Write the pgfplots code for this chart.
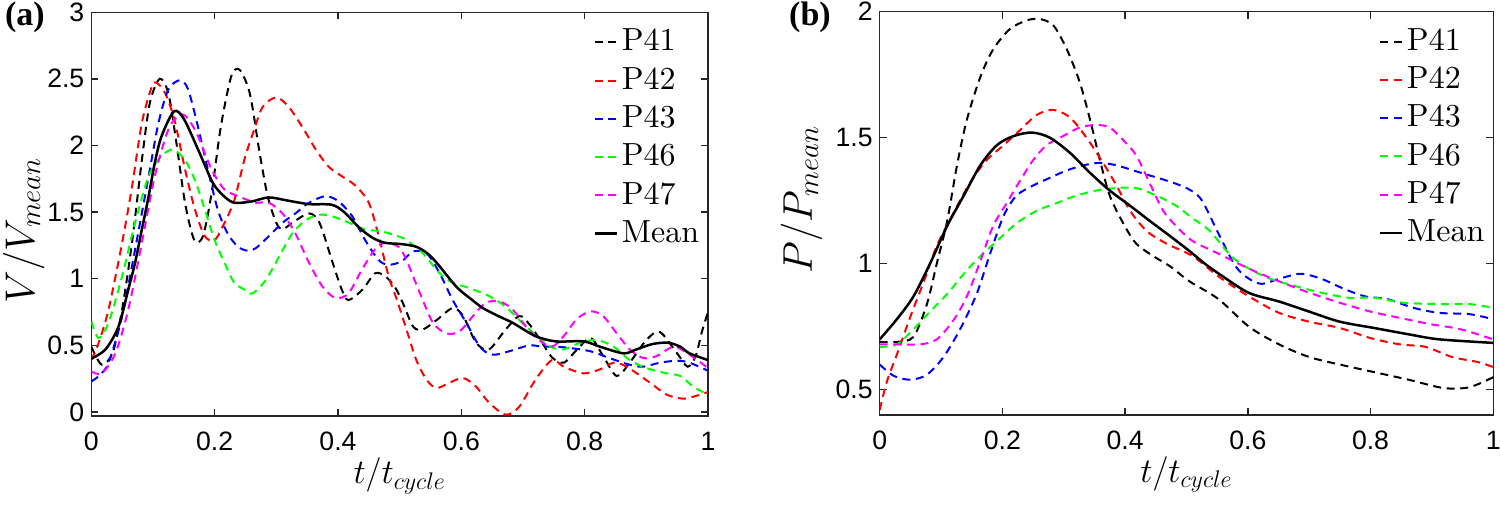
\documentclass[border=0pt]{standalone}
\usepackage{fontspec}
\usepackage{pgfplots}
\pgfplotsset{compat=1.18}
\newfontfamily\arialfont{Liberation Sans}
\newfontfamily\timesfont{Liberation Serif}
\newfontfamily\lmroman{lmroman10-regular.otf}
\newcommand\legtxt[1]{{\lmroman\fontsize{16}{19}\selectfont #1}}

\pgfplotsset{
  panel/.style={
    scale only axis, anchor=south west,
    xmin=0, xmax=1, xtick={0,0.2,0.4,0.6,0.8,1},
    tick align=inside, tick pos=both, xticklabel pos=lower, yticklabel pos=left,
    major tick length=3.5pt,
    axis line style={line width=0.7pt, black!85},
    every tick/.style={line width=0.7pt, black!85},
    ticklabel style={font=\arialfont\fontsize{13.3}{16}\selectfont, text=black},
    /pgf/number format/assume math mode=true,
    xticklabel style={yshift=-4.5pt},
    xlabel={$t/t_{cycle}$},
    xlabel style={font=\fontsize{18}{22}\selectfont, at={(axis description cs:0.5,-0.168)}, anchor=base, inner sep=0pt},
    ylabel style={font=\fontsize{20}{24}\selectfont, rotate=0, anchor=base, inner sep=0pt},
    legend style={draw=none, fill=none, at={(1,1)}, anchor=north east,
      xshift=-2.25pt, yshift=-6.1pt, inner xsep=0pt, inner ysep=0pt,
      row sep=1.75pt, font=\lmroman\fontsize{16}{19}\selectfont,
      nodes={inner sep=2pt, text height=11pt, text depth=2.4pt},
      cells={anchor=west}},
    legend cell align=left,
    legend image code/.code={\draw[##1] (0pt,0pt) -- (10.85pt,0pt);},
    every axis plot/.append style={smooth, tension=0.5},
  },
  dsh/.style={dash pattern=on 4pt off 2.8pt, line width=1pt},
  mn/.style={solid, line width=1.25pt},
}
\definecolor{mgreen}{rgb}{0,1,0}
\definecolor{mmag}{rgb}{1,0,1}

\begin{document}
\begin{tikzpicture}
\path[use as bounding box] (0pt,0pt) rectangle (750pt,-252pt);

% ---------------- (a) ----------------
\begin{axis}[panel,
  at={(45.65pt,-208pt)}, width=308.35pt, height=201.9pt,
  ymin=-0.03, ymax=3, ytick={0,0.5,1,1.5,2,2.5,3},
  ylabel={$V/V_{mean}$},
  ylabel style={at={(axis description cs:-0.0929,0.46)}},
]
\addplot[black, dsh] coordinates {
(0,0.49) (0.017,0.355) (0.035,0.45) (0.05,0.77) (0.066,1.27) (0.082,1.89) (0.095,2.32) (0.111,2.5) (0.125,2.39) (0.138,2.02) (0.152,1.57) (0.167,1.29) (0.181,1.32) (0.195,1.64) (0.21,2.14) (0.227,2.52) (0.24,2.57) (0.254,2.44) (0.262,2.27) (0.272,1.97) (0.286,1.62) (0.3,1.42) (0.31,1.37) (0.326,1.42) (0.353,1.49) (0.37,1.42) (0.39,1.14) (0.406,0.92) (0.417,0.84) (0.44,0.92) (0.46,1.04) (0.476,1.02) (0.492,0.94) (0.505,0.82) (0.522,0.64) (0.538,0.62) (0.56,0.69) (0.586,0.78) (0.603,0.72) (0.624,0.52) (0.645,0.47) (0.672,0.62) (0.694,0.72) (0.71,0.66) (0.731,0.52) (0.747,0.41) (0.766,0.37) (0.788,0.47) (0.81,0.555) (0.83,0.42) (0.852,0.27) (0.873,0.37) (0.9,0.54) (0.922,0.60) (0.95,0.44) (0.967,0.34) (0.98,0.42) (0.99,0.6) (1,0.75)
};
\addplot[red, dsh] coordinates {
(0,0.39) (0.012,0.52) (0.028,0.77) (0.05,1.27) (0.066,1.69) (0.082,2.17) (0.098,2.44) (0.106,2.47) (0.12,2.39) (0.135,2.19) (0.152,1.82) (0.168,1.52) (0.184,1.32) (0.2,1.29) (0.216,1.42) (0.232,1.59) (0.248,1.89) (0.262,2.09) (0.278,2.29) (0.3,2.36) (0.32,2.29) (0.342,2.14) (0.364,1.97) (0.385,1.84) (0.406,1.77) (0.428,1.70) (0.45,1.57) (0.466,1.32) (0.482,1.02) (0.495,0.85) (0.511,0.62) (0.527,0.39) (0.544,0.24) (0.56,0.18) (0.581,0.22) (0.603,0.255) (0.624,0.19) (0.645,0.07) (0.672,-0.02) (0.694,0.04) (0.72,0.24) (0.747,0.39) (0.766,0.34) (0.798,0.29) (0.825,0.32) (0.847,0.37) (0.868,0.34) (0.906,0.22) (0.933,0.13) (0.96,0.10) (0.98,0.12) (1,0.15)
};
\addplot[blue, dsh] coordinates {
(0,0.23) (0.012,0.27) (0.028,0.37) (0.05,0.72) (0.071,1.22) (0.093,1.77) (0.109,2.17) (0.125,2.42) (0.144,2.49) (0.157,2.42) (0.173,2.14) (0.189,1.82) (0.205,1.52) (0.221,1.34) (0.238,1.24) (0.254,1.21) (0.267,1.23) (0.288,1.32) (0.31,1.42) (0.331,1.49) (0.353,1.57) (0.38,1.62) (0.401,1.58) (0.423,1.47) (0.444,1.29) (0.466,1.14) (0.482,1.105) (0.503,1.13) (0.522,1.205) (0.544,1.19) (0.565,1.04) (0.586,0.84) (0.608,0.67) (0.63,0.49) (0.65,0.43) (0.677,0.455) (0.71,0.50) (0.731,0.49) (0.753,0.49) (0.777,0.48) (0.81,0.455) (0.84,0.405) (0.873,0.355) (0.895,0.34) (0.922,0.37) (0.95,0.385) (0.97,0.37) (1,0.31)
};
\addplot[mgreen, dsh] coordinates {
(0,0.68) (0.012,0.555) (0.028,0.67) (0.05,1.02) (0.071,1.42) (0.093,1.77) (0.114,1.92) (0.133,1.97) (0.152,1.89) (0.168,1.74) (0.184,1.52) (0.2,1.29) (0.216,1.12) (0.232,0.97) (0.254,0.905) (0.262,0.89) (0.283,0.99) (0.305,1.17) (0.326,1.34) (0.348,1.44) (0.37,1.48) (0.39,1.47) (0.418,1.42) (0.444,1.37) (0.471,1.355) (0.503,1.31) (0.517,1.27) (0.538,1.19) (0.565,1.04) (0.586,0.97) (0.613,0.93) (0.645,0.87) (0.672,0.79) (0.694,0.69) (0.72,0.58) (0.745,0.49) (0.766,0.47) (0.793,0.52) (0.82,0.54) (0.847,0.49) (0.873,0.39) (0.9,0.33) (0.933,0.29) (0.955,0.27) (0.976,0.19) (1,0.13)
};
\addplot[mmag, dsh] coordinates {
(0,0.305) (0.017,0.29) (0.039,0.44) (0.06,0.77) (0.082,1.27) (0.103,1.77) (0.125,2.12) (0.144,2.23) (0.157,2.2) (0.173,2.07) (0.195,1.82) (0.216,1.67) (0.238,1.62) (0.254,1.59) (0.267,1.57) (0.288,1.57) (0.31,1.49) (0.331,1.34) (0.353,1.12) (0.375,0.94) (0.396,0.855) (0.417,0.89) (0.439,1.07) (0.46,1.22) (0.476,1.27) (0.498,1.24) (0.511,1.14) (0.533,0.89) (0.554,0.67) (0.576,0.59) (0.597,0.605) (0.619,0.72) (0.64,0.82) (0.662,0.83) (0.683,0.77) (0.705,0.64) (0.726,0.54) (0.747,0.49) (0.766,0.57) (0.788,0.70) (0.81,0.755) (0.83,0.72) (0.852,0.59) (0.873,0.47) (0.895,0.405) (0.917,0.42) (0.944,0.49) (0.967,0.44) (1,0.33)
};
\addplot[black, mn] coordinates {
(0,0.40) (0.023,0.47) (0.044,0.64) (0.06,0.92) (0.071,1.12) (0.082,1.37) (0.093,1.62) (0.103,1.87) (0.114,2.07) (0.134,2.255) (0.15,2.2) (0.175,1.95) (0.197,1.72) (0.215,1.62) (0.232,1.57) (0.26,1.58) (0.288,1.61) (0.32,1.585) (0.353,1.56) (0.39,1.555) (0.41,1.5) (0.433,1.39) (0.455,1.31) (0.476,1.27) (0.503,1.26) (0.527,1.24) (0.545,1.19) (0.56,1.12) (0.592,0.94) (0.615,0.85) (0.635,0.78) (0.66,0.72) (0.683,0.67) (0.72,0.57) (0.753,0.53) (0.798,0.53) (0.825,0.49) (0.863,0.44) (0.884,0.47) (0.91,0.51) (0.935,0.52) (0.955,0.49) (0.97,0.44) (1,0.39)
};
\legend{\legtxt{P41},\legtxt{P42},\legtxt{P43},\legtxt{P46},\legtxt{P47},\legtxt{Mean}}
\end{axis}

% ---------------- (b) ----------------
\begin{axis}[panel,
  at={(439.85pt,-207.5pt)}, width=306.75pt, height=201.75pt,
  ymin=0.4, ymax=2, ytick={0.5,1,1.5,2},
  ylabel={$P/P_{mean}$},
  ylabel style={at={(axis description cs:-0.1104,0.534)}},
]
\addplot[black, dsh] coordinates {
(0,0.69) (0.028,0.69) (0.055,0.71) (0.077,0.84) (0.093,1.0) (0.11,1.17) (0.126,1.39) (0.142,1.57) (0.164,1.74) (0.185,1.85) (0.212,1.93) (0.24,1.965) (0.261,1.97) (0.283,1.945) (0.305,1.85) (0.326,1.72) (0.343,1.57) (0.359,1.41) (0.375,1.27) (0.397,1.16) (0.418,1.08) (0.446,1.03) (0.473,0.99) (0.505,0.93) (0.552,0.86) (0.602,0.75) (0.651,0.68) (0.70,0.63) (0.75,0.60) (0.806,0.57) (0.862,0.54) (0.919,0.507) (0.961,0.51) (1,0.55)
};
\addplot[red, dsh] coordinates {
(0,0.42) (0.012,0.535) (0.028,0.64) (0.05,0.79) (0.072,0.93) (0.093,1.07) (0.12,1.20) (0.147,1.32) (0.174,1.41) (0.202,1.47) (0.229,1.53) (0.256,1.59) (0.283,1.61) (0.31,1.58) (0.337,1.50) (0.364,1.40) (0.386,1.31) (0.408,1.21) (0.435,1.13) (0.467,1.08) (0.51,1.03) (0.552,0.95) (0.602,0.87) (0.651,0.805) (0.70,0.77) (0.75,0.745) (0.8,0.705) (0.848,0.68) (0.89,0.67) (0.933,0.63) (0.975,0.61) (1,0.59)
};
\addplot[blue, dsh] coordinates {
(0,0.60) (0.023,0.555) (0.05,0.54) (0.077,0.56) (0.104,0.63) (0.131,0.74) (0.158,0.88) (0.18,1.04) (0.202,1.19) (0.223,1.27) (0.25,1.31) (0.277,1.34) (0.305,1.37) (0.332,1.39) (0.359,1.40) (0.386,1.39) (0.413,1.37) (0.44,1.35) (0.467,1.33) (0.5,1.30) (0.524,1.255) (0.552,1.12) (0.58,0.99) (0.602,0.94) (0.623,0.92) (0.651,0.94) (0.686,0.96) (0.72,0.94) (0.757,0.90) (0.792,0.87) (0.827,0.86) (0.87,0.825) (0.912,0.805) (0.961,0.80) (1,0.78)
};
\addplot[mgreen, dsh] coordinates {
(0,0.67) (0.028,0.68) (0.055,0.74) (0.082,0.81) (0.11,0.88) (0.137,0.96) (0.164,1.03) (0.191,1.09) (0.223,1.16) (0.256,1.21) (0.288,1.24) (0.321,1.27) (0.353,1.29) (0.386,1.30) (0.418,1.30) (0.451,1.27) (0.483,1.23) (0.51,1.18) (0.538,1.13) (0.573,1.03) (0.602,0.98) (0.637,0.94) (0.679,0.91) (0.72,0.885) (0.764,0.865) (0.806,0.865) (0.855,0.845) (0.912,0.84) (0.961,0.84) (1,0.825)
};
\addplot[mmag, dsh] coordinates {
(0,0.68) (0.028,0.68) (0.066,0.68) (0.093,0.70) (0.12,0.775) (0.142,0.87) (0.164,1.01) (0.185,1.15) (0.207,1.24) (0.229,1.33) (0.25,1.41) (0.272,1.47) (0.299,1.506) (0.326,1.54) (0.353,1.55) (0.375,1.54) (0.397,1.49) (0.418,1.43) (0.44,1.32) (0.462,1.21) (0.483,1.15) (0.51,1.09) (0.552,1.04) (0.602,0.98) (0.651,0.93) (0.70,0.885) (0.75,0.845) (0.8,0.81) (0.848,0.785) (0.898,0.76) (0.947,0.74) (1,0.70)
};
\addplot[black, mn] coordinates {
(0,0.70) (0.028,0.78) (0.055,0.87) (0.082,1.0) (0.11,1.15) (0.137,1.27) (0.164,1.39) (0.191,1.47) (0.218,1.506) (0.248,1.52) (0.277,1.50) (0.31,1.44) (0.343,1.36) (0.375,1.29) (0.408,1.23) (0.44,1.17) (0.473,1.11) (0.505,1.05) (0.53,1.0) (0.559,0.95) (0.602,0.884) (0.651,0.85) (0.70,0.81) (0.75,0.77) (0.806,0.745) (0.862,0.72) (0.912,0.70) (1,0.686)
};
\legend{\legtxt{P41},\legtxt{P42},\legtxt{P43},\legtxt{P46},\legtxt{P47},\legtxt{Mean}}
\end{axis}

\node[font=\timesfont\bfseries\fontsize{17}{20}\selectfont, inner sep=0pt] at (12.5pt,-8.5pt) {(a)};
\node[font=\timesfont\bfseries\fontsize{17}{20}\selectfont, inner sep=0pt] at (405pt,-8.5pt) {(b)};
\end{tikzpicture}
\end{document}
